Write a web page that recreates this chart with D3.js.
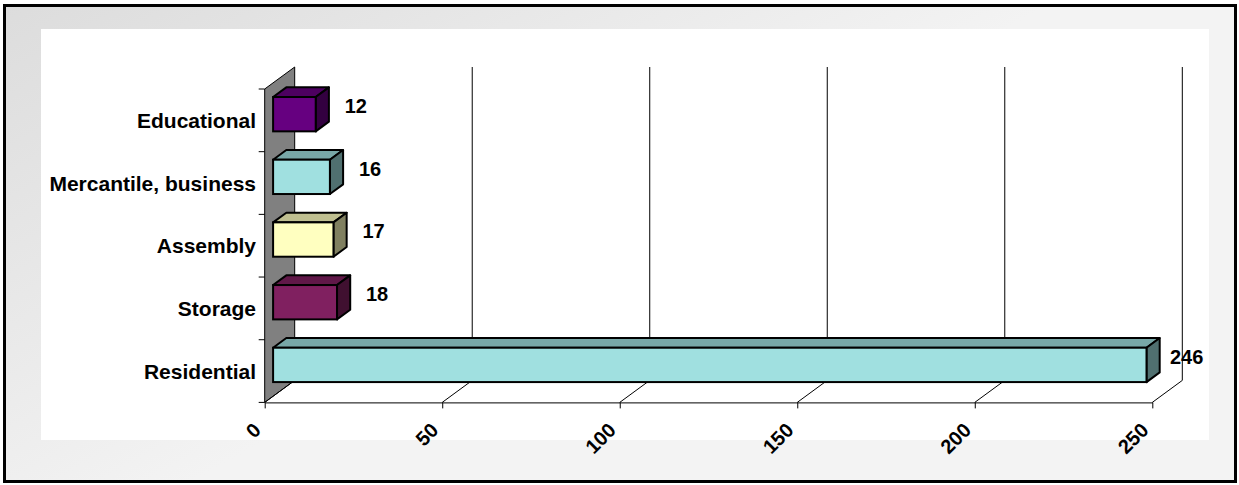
<!DOCTYPE html>
<html><head><meta charset="utf-8">
<script src="https://cdn.jsdelivr.net/npm/d3@7"></script>
<style>html,body{margin:0;padding:0;background:#fff;}svg{display:block;}</style>
</head><body>
<svg id="chart" width="1239" height="485"></svg>
<script>
const categories = ["Educational", "Mercantile, business", "Assembly", "Storage", "Residential"];
const values = [12, 16, 17, 18, 246];
const frontColors = ["#660080", "#a0e0e0", "#ffffc0", "#802060", "#a0e0e0"];
const tickValues = [0, 50, 100, 150, 200, 250];

const svg = d3.select("#chart");
const W = 1239, H = 485;

// background
const defs = svg.append("defs");
const g = defs.append("linearGradient").attr("id","bg").attr("gradientUnits","userSpaceOnUse")
  .attr("x1",0).attr("y1",0).attr("x2",250).attr("y2",450);
g.append("stop").attr("offset","0").attr("stop-color","#dcdcdc");
g.append("stop").attr("offset","1").attr("stop-color","#f3f3f3");
svg.append("rect").attr("x",4.5).attr("y",5.5).attr("width",1231).attr("height",476)
  .attr("fill","url(#bg)").attr("stroke","#000").attr("stroke-width",3);
svg.append("rect").attr("x",41).attr("y",29).attr("width",1168).attr("height",411).attr("fill","#fff");

// scales
const x = d3.scaleLinear().domain([0,250]).range([264.7,1152.3]);
const y = d3.scaleBand().domain(categories).range([89,402.4]).padding(0);
const DX = 30, DY = -22;         // chart depth projection
const b0 = 0.28, b1 = 0.72;      // bar depth fraction
const floorY = y.range()[1];
const topY = y.range()[0];

function shade(c, k){ const r = d3.rgb(c); return d3.rgb(r.r*k, r.g*k, r.b*k).formatHex(); }

// left wall
const x0 = x(0);
svg.append("path")
  .attr("d", `M${x0},${topY} L${x0+DX},${topY+DY} L${x0+DX},${floorY+DY} L${x0},${floorY} Z`)
  .attr("fill","#808080").attr("stroke","#000").attr("stroke-width",1);

// back-wall gridlines
svg.append("g").selectAll("line").data(tickValues.slice(1)).join("line")
  .attr("x1", d=>x(d)+DX).attr("x2", d=>x(d)+DX)
  .attr("y1", topY+DY).attr("y2", floorY+DY)
  .attr("stroke","#000").attr("stroke-width",1);

// floor diagonals
svg.append("g").selectAll("line").data(tickValues).join("line")
  .attr("x1", d=>x(d)).attr("x2", d=>x(d)+DX)
  .attr("y1", floorY).attr("y2", floorY+DY)
  .attr("stroke","#000").attr("stroke-width",1);

// bottom axis
const xAxis = svg.append("g").attr("transform",`translate(0,${floorY})`)
  .call(d3.axisBottom(x).tickValues(tickValues).tickSize(6).tickSizeOuter(0));
xAxis.select(".domain").attr("stroke","#000");
xAxis.selectAll(".tick line").attr("stroke","#000");
xAxis.selectAll(".tick text")
  .attr("font-family","'Liberation Sans', Arial, sans-serif").attr("font-weight","bold")
  .attr("font-size","20px").attr("fill","#000")
  .attr("text-anchor","end").attr("y",0).attr("dy",0)
  .attr("transform","translate(-3,29) rotate(-45)");

// left ticks at band boundaries
const bounds = categories.map(c=>y(c)).concat([floorY]);
svg.append("g").selectAll("line").data(bounds).join("line")
  .attr("x1", x0-6).attr("x2", x0).attr("y1", d=>d).attr("y2", d=>d)
  .attr("stroke","#000").attr("stroke-width",1);

// category labels
svg.append("g").selectAll("text").data(categories).join("text")
  .attr("x", 256).attr("y", d=>y(d)+y.bandwidth()/2+7.5)
  .attr("text-anchor","end")
  .attr("font-family","'Liberation Sans', Arial, sans-serif").attr("font-weight","bold")
  .attr("font-size","21px").text(d=>d);

// bars
const bh = y.bandwidth()*0.548;
const fdx = DX*b0, fdy = DY*b0, bdx = DX*(b1-b0), bdy = DY*(b1-b0);
const bars = svg.append("g").selectAll("g").data(categories.map((c,i)=>({c, v:values[i], col:frontColors[i]}))).join("g");
bars.each(function(d){
  const gg = d3.select(this);
  const xl = x(0)+fdx, xr = x(d.v)+fdx;
  const yt = y(d.c)+y.bandwidth()/2 - bh/2 + fdy, yb = yt + bh;
  gg.append("path").attr("d",`M${xl},${yt} L${xr},${yt} L${xr+bdx},${yt+bdy} L${xl+bdx},${yt+bdy} Z`)
    .attr("fill", shade(d.col,0.75)).attr("stroke","#000").attr("stroke-width",2).attr("stroke-linejoin","round");
  gg.append("path").attr("d",`M${xr},${yt} L${xr+bdx},${yt+bdy} L${xr+bdx},${yb+bdy} L${xr},${yb} Z`)
    .attr("fill", shade(d.col,0.5)).attr("stroke","#000").attr("stroke-width",2).attr("stroke-linejoin","round");
  gg.append("rect").attr("x",xl).attr("y",yt).attr("width",xr-xl).attr("height",bh)
    .attr("fill", d.col).attr("stroke","#000").attr("stroke-width",2);
});

// value labels
svg.append("g").selectAll("text").data(categories.map((c,i)=>({c, v:values[i]}))).join("text")
  .attr("x", d=>x(d.v)+DX+18.5).attr("y", d=>y(d.c)+y.bandwidth()/2-7.5)
  .attr("text-anchor","middle")
  .attr("font-family","'Liberation Sans', Arial, sans-serif").attr("font-weight","bold")
  .attr("font-size","20px").text(d=>d.v);
</script>
</body></html>
